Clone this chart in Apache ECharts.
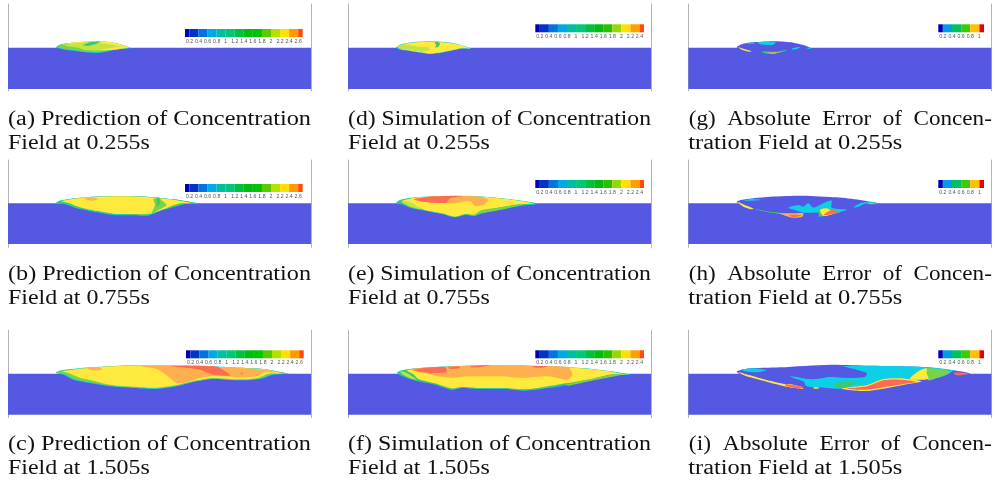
<!DOCTYPE html>
<html><head><meta charset="utf-8">
<style>html,body{margin:0;padding:0;background:#fff}#c{width:995px;height:483px;filter:blur(0.45px)}</style>
<script src="https://cdn.jsdelivr.net/npm/echarts@6/dist/echarts.min.js"></script>
</head><body><div id="c"></div>
<script>
// Colour levels of the fields
const WATER=0,CYAN=1,TEAL=2,GREEN=3,LIME=4,PALE=5,YELLOW=6,ORANGE=7,RED=8;
const fieldColors=['#5558e2','#0cd0e6','#22cca0','#3cc86c','#78d24c','#c4e444','#ffe93c','#ffb04e','#ff6a52'];

// Colour-bar tick labels and segment colours
const ticksLong=[0.2,0.4,0.6,0.8,1,1.2,1.4,1.6,1.8,2,2.2,2.4,2.6];
const ticksMid=[0.2,0.4,0.6,0.8,1,1.2,1.4,1.6,1.8,2,2.2,2.4];
const ticksShort=[0.2,0.4,0.6,0.8,1];
const barLong=['#0000b4','#0034c8','#0074e0','#00a8e4','#00bea0','#00c878','#00c040','#00bc10','#00c400','#5cc800','#b4e000','#ffe000','#ff9a00','#ff4c00','#e80000'];
const barMid=['#0000b4','#0034c8','#0074e0','#00a8e4','#00bea0','#00c878','#00c040','#00bc10','#28c000','#98d800','#ffe000','#ffa000','#ff4c00','#e80000'];
const barShort=['#0000b4','#009ce8','#00c060','#40c800','#ffc000','#e80000'];

// Fields: each layer is [colour level, outline as x,y pairs]
const fieldA=[
[CYAN,[[167,143],[178,134],[215,128],[290,124],[335,127],[365,134],[392,144],[370,146],[345,150],[320,155],[290,159],[255,157],[225,153],[200,150],[183,146]]],
[LIME,[[172,141],[185,133],[215,128],[290,125],[335,128],[365,135],[389,143],[368,145],[342,149],[316,154],[290,157],[255,155],[225,151],[200,148]]],
[PALE,[[195,137],[230,127],[290,125],[335,128],[365,135],[385,143],[362,143],[340,147],[310,151],[285,152],[255,150],[235,143],[212,140]]],
[YELLOW,[[182,134],[215,128],[290,124],[335,127],[365,135],[387,143],[370,142],[340,135],[300,128],[250,127],[215,132]]],
[GREEN,[[248,136],[265,128],[300,125],[285,133],[262,138]]],
[YELLOW,[[300,150],[340,143],[372,141],[387,143],[362,146],[335,150]]]
];
const fieldB=[
[CYAN,[[167,130],[178,122],[240,113],[350,108],[440,110],[520,118],[595,130],[565,130],[520,142],[480,153],[445,167],[400,166],[340,165],[280,155],[230,145],[195,133]]],
[GREEN,[[170,129],[181,122],[240,113],[350,108],[440,110],[520,118],[592,130],[562,130],[520,141],[480,151],[445,165],[400,164],[340,163],[280,153],[230,143],[197,131]]],
[YELLOW,[[183,124],[240,114],[350,109],[440,111],[520,119],[575,129],[535,131],[495,146],[445,162],[400,162],[340,161],[280,151],[235,140],[203,128]]],
[LIME,[[460,118],[475,113],[490,125],[500,135],[480,148],[455,160],[465,135]]],
[GREEN,[[470,115],[478,113],[480,130],[472,140]]],
[ORANGE,[[255,116],[275,112],[295,117],[275,122]]]
];
const fieldC=[
[CYAN,[[167,150],[178,143],[270,133],[420,126],[560,127],[700,133],[790,138],[865,152],[820,155],[780,168],[720,172],[640,168],[590,175],[530,190],[470,198],[400,195],[330,190],[270,180],[220,170],[190,155]]],
[LIME,[[170,149],[181,143],[270,134],[420,127],[560,128],[700,134],[790,139],[860,152],[815,154],[777,167],[720,171],[640,167],[590,174],[530,188],[470,196],[400,193],[330,188],[270,178],[222,168],[193,153]]],
[YELLOW,[[187,145],[270,134],[420,127],[560,128],[700,134],[790,139],[845,151],[805,152],[772,165],[720,169],[640,165],[590,172],[530,186],[470,194],[400,191],[330,185],[280,173],[240,164],[205,150]]],
[ORANGE,[[415,128],[560,128],[700,134],[800,141],[830,148],[795,148],[770,160],[720,163],[650,158],[600,165],[560,178],[530,180],[510,165],[475,140],[440,132]]],
[ORANGE,[[260,136],[300,132],[305,140],[275,142]]],
[RED,[[510,130],[560,129],[650,131],[680,148],[690,158],[640,155],[600,140]]],
[RED,[[720,150],[728,150],[728,154]]]
];
const fieldD=[
[CYAN,[[183,143],[195,134],[230,127],[290,124],[340,127],[375,134],[410,146],[380,146],[350,152],[320,158],[285,162],[255,158],[225,153],[200,150]]],
[YELLOW,[[187,139],[230,128],[290,125],[340,128],[375,135],[405,145],[380,145],[350,151],[320,157],[285,161],[255,157],[225,152],[200,148]]],
[PALE,[[190,142],[198,135],[225,136],[250,140],[280,142],[285,150],[260,155],[225,150],[200,148]]],
[GREEN,[[298,128],[308,125],[315,130],[310,140],[300,142],[304,134]]]
];
const fieldE=[
[CYAN,[[184,128],[195,120],[240,112],[340,108],[450,110],[530,118],[608,131],[560,137],[500,148],[440,160],[420,168],[390,165],[360,172],[320,162],[270,152],[225,143],[200,133]]],
[GREEN,[[188,127],[198,121],[240,113],[340,109],[450,111],[530,119],[603,131],[557,136],[500,147],[440,159],[420,166],[390,164],[360,171],[320,161],[270,151],[225,142],[202,132]]],
[YELLOW,[[200,123],[240,113],[340,109],[450,111],[530,119],[598,130],[542,134],[490,143],[440,152],[420,164],[390,162],[360,170],[320,160],[270,150],[240,137],[222,127]]],
[PALE,[[200,123],[222,125],[240,135],[260,148],[225,140],[205,130]]],
[LIME,[[420,164],[440,150],[490,143],[560,133],[510,147],[440,160]]],
[ORANGE,[[330,113],[380,108],[440,111],[460,120],[445,135],[420,138],[405,124],[350,130],[335,128]]],
[RED,[[236,118],[280,110],[340,108],[385,108],[345,115],[335,128],[290,128],[255,124]]]
];
const fieldF=[
[CYAN,[[186,150],[195,143],[230,137],[340,130],[470,126],[620,129],[740,135],[830,145],[885,155],[840,157],[780,170],[700,185],[640,195],[570,203],[510,198],[430,198],[380,195],[350,200],[300,185],[250,175],[215,165]]],
[GREEN,[[190,149],[199,143],[230,138],[340,131],[470,127],[620,130],[740,136],[830,146],[880,155],[837,156],[777,169],[697,184],[637,194],[570,202],[510,197],[430,197],[380,194],[350,199],[300,184],[250,174],[217,164]]],
[YELLOW,[[215,142],[340,131],[470,127],[620,130],[740,136],[830,146],[872,155],[832,154],[772,167],[692,181],[632,191],[570,199],[510,195],[430,195],[380,192],[350,196],[300,181],[250,168],[235,154]]],
[PALE,[[195,145],[215,150],[245,170],[225,165],[205,155]]],
[LIME,[[690,186],[780,166],[830,155],[860,155],[780,171],[700,188]]],
[ORANGE,[[222,138],[340,131],[470,127],[620,130],[700,133],[712,155],[695,170],[640,160],[560,165],[500,160],[400,160],[350,165],[310,160],[270,150]]],
[RED,[[235,141],[270,135],[330,132],[335,148],[300,150],[260,148]]],
[RED,[[340,133],[370,130],[375,135],[345,138]]],
[RED,[[405,130],[465,126],[440,132],[410,133]]],
[RED,[[590,130],[640,130],[610,135]]]
];
const fieldG=[
[WATER,[[200,142],[215,133],[250,127],[320,124],[370,128],[400,135],[425,146],[390,150],[360,155],[310,162],[270,158],[240,152],[215,148]]],
[CYAN,[[262,127],[300,125],[318,128],[305,135],[270,133]]],
[CYAN,[[232,129],[250,127],[255,130],[238,132]]],
[YELLOW,[[205,142],[225,148],[245,154],[240,155],[215,149]]],
[GREEN,[[275,155],[320,155],[350,150],[345,154],[310,162],[285,160]]],
[ORANGE,[[290,158],[320,157],[330,155],[310,161]]],
[CYAN,[[365,146],[385,141],[390,143],[370,149]]],
[CYAN,[[410,143],[425,146],[415,147]]]
];
const fieldH=[
[WATER,[[200,125],[230,117],[300,110],[400,107],[500,112],[570,120],[625,130],[590,135],[500,150],[430,170],[390,173],[330,165],[270,152],[225,140]]],
[YELLOW,[[202,125],[225,135],[250,146],[245,148],[220,140]]],
[GREEN,[[250,146],[300,155],[345,160],[340,163],[290,156]]],
[ORANGE,[[330,160],[370,160],[400,160],[397,170],[370,173],[345,167]]],
[RED,[[358,165],[395,166],[370,172]]],
[CYAN,[[355,143],[385,135],[400,140],[415,130],[430,143],[450,135],[470,125],[485,122],[485,143],[525,148],[530,150],[495,160],[445,170],[450,158],[400,158],[375,150]]],
[GREEN,[[445,152],[465,143],[490,150],[510,157],[470,167],[450,168]]],
[YELLOW,[[450,150],[470,145],[490,160],[460,168]]],
[RED,[[460,165],[485,150],[505,157],[470,165]]],
[CYAN,[[550,142],[575,128],[610,126],[620,130],[590,130],[565,140]]],
[CYAN,[[220,122],[245,117],[275,120],[250,122]]],
[ORANGE,[[590,130],[622,131],[600,133]]]
];
const fieldI=[
[WATER,[[200,146],[230,137],[330,133],[480,125],[600,128],[760,132],[850,142],[900,152],[850,160],[790,172],[700,185],[590,203],[520,198],[450,198],[400,198],[350,193],[290,180],[230,165]]],
[YELLOW,[[203,147],[230,160],[290,176],[350,191],[400,197],[395,192],[360,183],[345,183],[290,171],[240,157]]],
[RED,[[345,183],[375,187],[400,193],[390,197],[350,190]]],
[CYAN,[[215,140],[250,136],[290,142],[260,148],[225,145]]],
[CYAN,[[520,130],[600,128],[760,132],[850,142],[830,155],[800,165],[740,170],[690,168],[640,170],[590,185],[520,197],[470,195],[410,190],[400,175],[370,165],[360,160],[385,163],[410,168],[440,168],[480,162],[530,165],[585,162],[590,150],[560,140]]],
[GREEN,[[490,185],[510,178],[560,178],[545,188],[510,195]]],
[LIME,[[770,136],[830,142],[840,150],[800,165],[775,172],[770,150]]],
[YELLOW,[[720,168],[745,145],[770,136],[770,150],[775,168]]],
[YELLOW,[[515,197],[590,186],[640,168],[690,166],[755,175],[700,186],[590,204]]],
[RED,[[530,197],[590,190],[640,172],[690,170],[740,176],[700,183],[590,200]]],
[RED,[[850,149],[880,149],[897,152],[862,157]]],
[YELLOW,[[430,193],[445,193],[445,197],[432,197]]]
];

const captions=[
['(a) Prediction of Concentration','Field at 0.255s'],
['(b) Prediction of Concentration','Field at 0.755s'],
['(c) Prediction of Concentration','Field at 1.505s'],
['(d) Simulation of Concentration','Field at 0.255s'],
['(e) Simulation of Concentration','Field at 0.755s'],
['(f) Simulation of Concentration','Field at 1.505s'],
['(g)  Absolute  Error  of  Concen-','tration Field at 0.255s'],
['(h)  Absolute  Error  of  Concen-','tration Field at 0.755s'],
['(i)  Absolute  Error  of  Concen-','tration Field at 1.505s']
];
const fields=[fieldA,fieldB,fieldC,fieldD,fieldE,fieldF,fieldG,fieldH,fieldI];

// Layout
const cols=[{left:8,xMin:24,xMax:933},{left:348,xMin:39,xMax:948},{left:688.33,xMin:55,xMax:964}];
const rows=[{top:4,yMin:12,yMax:273,water:[143,267]},{top:160,yMin:0,yMax:262,water:[130,252]},{top:330.33,yMin:22,yMax:284,water:[152,275]}];
const capY=[[119.5,144],[274.5,299],[444.5,469]];
const bars=[
{left:185,top:29,w:117.7,ticks:ticksLong,colors:barLong,max:2.7},
{left:185,top:184,w:117.7,ticks:ticksLong,colors:barLong,max:2.7},
{left:186,top:350.3,w:117.7,ticks:ticksLong,colors:barLong,max:2.7},
{left:535.3,top:24.3,w:108.7,ticks:ticksMid,colors:barMid,max:2.5},
{left:535.3,top:180,w:108.7,ticks:ticksMid,colors:barMid,max:2.5},
{left:535.3,top:350.3,w:108.7,ticks:ticksMid,colors:barMid,max:2.5},
{left:938.3,top:24.3,w:45.7,ticks:ticksShort,colors:barShort,max:1.1},
{left:938.3,top:180,w:45.7,ticks:ticksShort,colors:barShort,max:1.1},
{left:938.3,top:350.3,w:45.7,ticks:ticksShort,colors:barShort,max:1.1}
];

const grid=[],xAxis=[],yAxis=[],series=[],elements=[];
const mc=document.createElement('canvas').getContext('2d');
const FONT='20.5px "Liberation Serif"';
mc.font=FONT;

fields.forEach((layers,i)=>{
  const c=cols[Math.floor(i/3)],r=rows[i%3];
  const gi=grid.length;
  const h=(r.yMax-r.yMin)/3;
  grid.push({left:c.left,top:r.top,width:(c.xMax-c.xMin)/3,height:h});
  xAxis.push({gridIndex:gi,type:'value',min:c.xMin,max:c.xMax,show:false});
  const y0=yAxis.length;
  const gray={show:true,onZero:false,lineStyle:{color:'#b4b4b4',width:1}};
  yAxis.push({gridIndex:gi,type:'value',min:r.yMin,max:r.yMax,inverse:true,position:'left',axisLine:gray,axisTick:{show:false},axisLabel:{show:false},splitLine:{show:false}});
  yAxis.push({gridIndex:gi,type:'value',min:r.yMin,max:r.yMax,inverse:true,position:'right',axisLine:gray,axisTick:{show:false},axisLabel:{show:false},splitLine:{show:false}});
  const all=[[WATER,[[c.xMin,r.water[0]],[c.xMax,r.water[0]],[c.xMax,r.water[1]],[c.xMin,r.water[1]]]]].concat(layers);
  series.push({type:'custom',xAxisIndex:gi,yAxisIndex:y0,clip:true,silent:true,
    data:all.map((l,k)=>[k,l[0]]),
    encode:{x:[],y:[]},
    renderItem:(p,api)=>{
      const k=api.value(0),l=all[k];
      return {type:'polygon',shape:{points:l[1].map(q=>api.coord(q)),smooth:k===0?0:0.25},style:{fill:fieldColors[l[0]]}};
    }});
});

bars.forEach((b)=>{
  const gi=grid.length;
  grid.push({left:b.left,top:b.top,width:b.w,height:8});
  xAxis.push({gridIndex:gi,type:'value',min:0.1,max:b.max,axisLine:{show:false},axisTick:{show:false},splitLine:{show:false},
    axisLabel:{show:true,customValues:b.ticks,fontSize:5.2,color:'#555',margin:2,fontFamily:'"Liberation Sans"',formatter:v=>String(v)}});
  yAxis.push({gridIndex:gi,type:'value',min:0,max:1,show:false});
  const yi=yAxis.length-1;
  const edges=[0.1].concat(b.ticks,[b.max]);
  const segs=edges.slice(0,-1).map((e,k)=>[e,edges[k+1],b.colors[Math.min(k,b.colors.length-1)]]);
  series.push({type:'custom',xAxisIndex:gi,yAxisIndex:yi,silent:true,data:segs.map((s,k)=>[s[0],s[1],k]),encode:{x:[0,1],y:[]},
    renderItem:(p,api)=>{
      const a=api.coord([api.value(0),1]),e=api.coord([api.value(1),0]);
      return {type:'rect',shape:{x:a[0],y:a[1],width:e[0]-a[0],height:e[1]-a[1]},style:{fill:segs[api.value(2)][2]}};
    }});
});

captions.forEach((lines,i)=>{
  const c=cols[Math.floor(i/3)],yy=capY[i%3],third=i>=6;
  lines.forEach((t,k)=>{
    const target=k===0?303:(third?214:141.7);
    elements.push({type:'text',x:c.left+(k===0&&third?0.5:0),y:yy[k],scaleX:target/mc.measureText(t).width,silent:true,
      style:{text:t,font:FONT,fill:'#111',verticalAlign:'middle',align:'left'}});
  });
});

const chart=echarts.init(document.getElementById('c'),null,{renderer:'canvas'});
chart.setOption({animation:false,backgroundColor:'#fff',grid,xAxis,yAxis,series,graphic:{elements}});
</script></body></html>
